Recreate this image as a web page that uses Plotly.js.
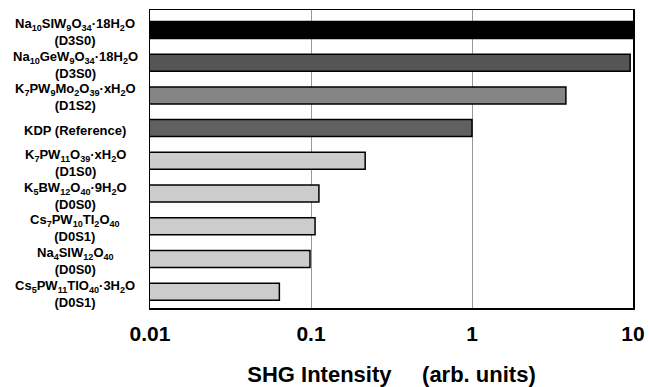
<!DOCTYPE html>
<html>
<head>
<meta charset="utf-8">
<script src="https://cdn.plot.ly/plotly-3.0.1.min.js"></script>
<style>html,body{margin:0;padding:0;background:#fff;}#chart{width:649px;height:387px;}</style>
</head>
<body>
<div id="chart"></div>
<script>
const compounds = [
  "Na<sub>10</sub>SIW<sub>9</sub>O<sub>34</sub>·18H<sub>2</sub>O<br>(D3S0)",
  "Na<sub>10</sub>GeW<sub>9</sub>O<sub>34</sub>·18H<sub>2</sub>O<br>(D3S0)",
  "K<sub>7</sub>PW<sub>9</sub>Mo<sub>2</sub>O<sub>39</sub>·xH<sub>2</sub>O<br>(D1S2)",
  "KDP (Reference)",
  "K<sub>7</sub>PW<sub>11</sub>O<sub>39</sub>·xH<sub>2</sub>O<br>(D1S0)",
  "K<sub>5</sub>BW<sub>12</sub>O<sub>40</sub>·9H<sub>2</sub>O<br>(D0S0)",
  "Cs<sub>7</sub>PW<sub>10</sub>TI<sub>2</sub>O<sub>40</sub><br>(D0S1)",
  "Na<sub>4</sub>SIW<sub>12</sub>O<sub>40</sub><br>(D0S0)",
  "Cs<sub>5</sub>PW<sub>11</sub>TIO<sub>40</sub>·3H<sub>2</sub>O<br>(D0S1)"
];
const shgIntensity = [10, 9.6, 3.83, 1.0, 0.217, 0.112, 0.106, 0.0986, 0.0636];
const barColors = ["#000000", "#555555", "#858585", "#606060", "#cccccc", "#cccccc", "#cccccc", "#cccccc", "#cccccc"];
const tickValues = [0.01, 0.1, 1, 10];
const tickLabels = ["0.01", "0.1", "1", "10"];

const trace = {
  type: "bar",
  orientation: "h",
  x: shgIntensity,
  y: compounds,
  width: 0.52,
  marker: {color: barColors, line: {color: "#000", width: 1.5}},
  hoverinfo: "none"
};

const annotations = compounds.map(c => ({
  text: c,
  xref: "paper", yref: "y",
  x: -0.155, y: c,
  xanchor: "center", yanchor: "middle",
  yshift: -2,
  showarrow: false,
  align: "center",
  font: {family: "Liberation Sans, Arial, sans-serif", size: 13, color: "#000", weight: "bold"}
}));

const layout = {
  width: 649, height: 387,
  margin: {l: 150, r: 16, t: 10, b: 79},
  paper_bgcolor: "#fff", plot_bgcolor: "#fff",
  showlegend: false,
  xaxis: {
    type: "log",
    range: [-2, 1],
    tickvals: tickValues,
    ticktext: tickLabels,
    ticks: "outside", ticklen: 6, tickcolor: "rgba(0,0,0,0)",
    tickfont: {family: "Liberation Sans, Arial, sans-serif", size: 21, color: "#000", weight: "bold"},
    showgrid: true, gridcolor: "#999", gridwidth: 1,
    showline: true, linecolor: "#000", linewidth: 1.5, mirror: true,
    zeroline: false,
    title: {text: "SHG Intensity\u00a0\u00a0\u00a0\u00a0\u00a0(arb. units)", standoff: 23,
      font: {family: "Liberation Sans, Arial, sans-serif", size: 22, color: "#000", weight: "bold"}}
  },
  yaxis: {
    type: "category",
    autorange: "reversed",
    showticklabels: false,
    ticks: "",
    showgrid: false,
    showline: true, linecolor: "#000", linewidth: 1.5, mirror: true,
    zeroline: false
  },
  annotations: annotations
};

Plotly.newPlot("chart", [trace], layout, {displayModeBar: false, staticPlot: true});
</script>
</body>
</html>
